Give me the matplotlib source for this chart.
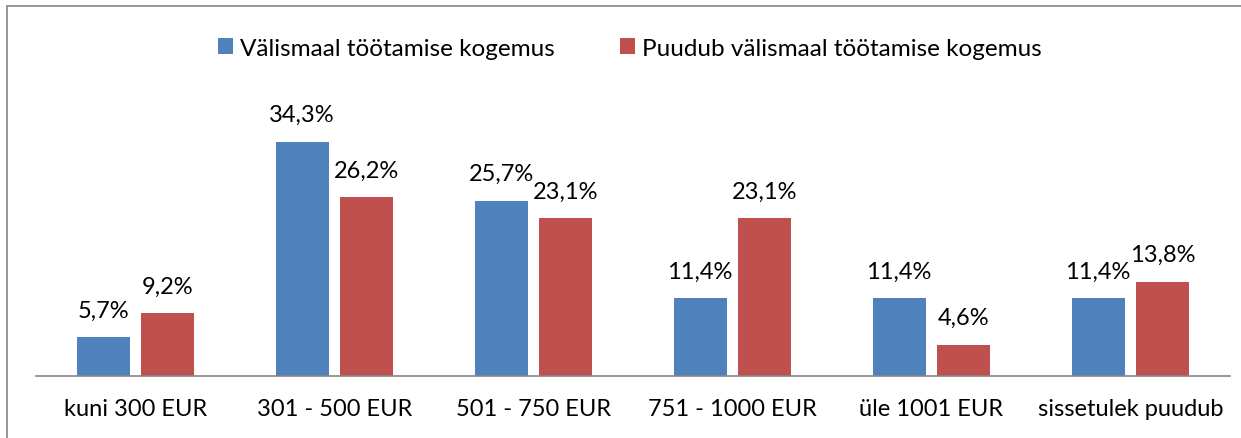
import numpy as np
import matplotlib.pyplot as plt
from matplotlib.patches import Rectangle

plt.rcParams['font.family'] = ['Lato', 'DejaVu Sans']

categories = ['kuni 300 EUR', '301 - 500 EUR', '501 - 750 EUR',
              '751 - 1000 EUR', 'üle 1001 EUR', 'sissetulek puudub']
series_names = ['Välismaal töötamise kogemus', 'Puudub välismaal töötamise kogemus']
with_abroad = [5.7, 34.3, 25.7, 11.4, 11.4, 11.4]
without_abroad = [9.2, 26.2, 23.1, 23.1, 4.6, 13.8]

blue = '#4F81BD'
red = '#C0504D'

fig = plt.figure(figsize=(12.41, 4.39), dpi=100)
# outer chart border
fig.patches.append(Rectangle((7 / 1241, -0.01), 1.0, 1 - 7 / 439 + 0.01,
                             transform=fig.transFigure, fill=False,
                             edgecolor='#868686', linewidth=1.2))

ax = fig.add_axes([36 / 1241, 62 / 439, 1194 / 1241, 273 / 439])
x = np.arange(len(categories))
w = 0.266
off = 0.163
b1 = ax.bar(x - off, with_abroad, w, color=blue, label=series_names[0])
b2 = ax.bar(x + off, without_abroad, w, color=red, label=series_names[1])

for bars, vals in ((b1, with_abroad), (b2, without_abroad)):
    for r, v in zip(bars, vals):
        ax.annotate(f'{v:.1f}%'.replace('.', ','),
                    (r.get_x() + r.get_width() / 2, v),
                    xytext=(0, 12), textcoords='offset points',
                    ha='center', va='bottom', fontsize=17)

ax.set_xlim(-0.5, len(categories) - 0.5)
ax.set_ylim(0, 40)
ax.set_xticks(x)
ax.set_xticklabels(categories, fontsize=17)
ax.tick_params(axis='x', length=0, pad=16)
ax.set_yticks([])
for s in ('top', 'right', 'left'):
    ax.spines[s].set_visible(False)
ax.spines['bottom'].set_color('#868686')
ax.spines['bottom'].set_linewidth(1.2)

fig.legend(loc='center', bbox_to_anchor=(630 / 1241, 1 - 49 / 439), ncol=2,
           frameon=False, fontsize=17.5, handlelength=0.6, handleheight=0.6,
           handletextpad=0.3, columnspacing=2.7)

fig.savefig('out.png', dpi=100)
